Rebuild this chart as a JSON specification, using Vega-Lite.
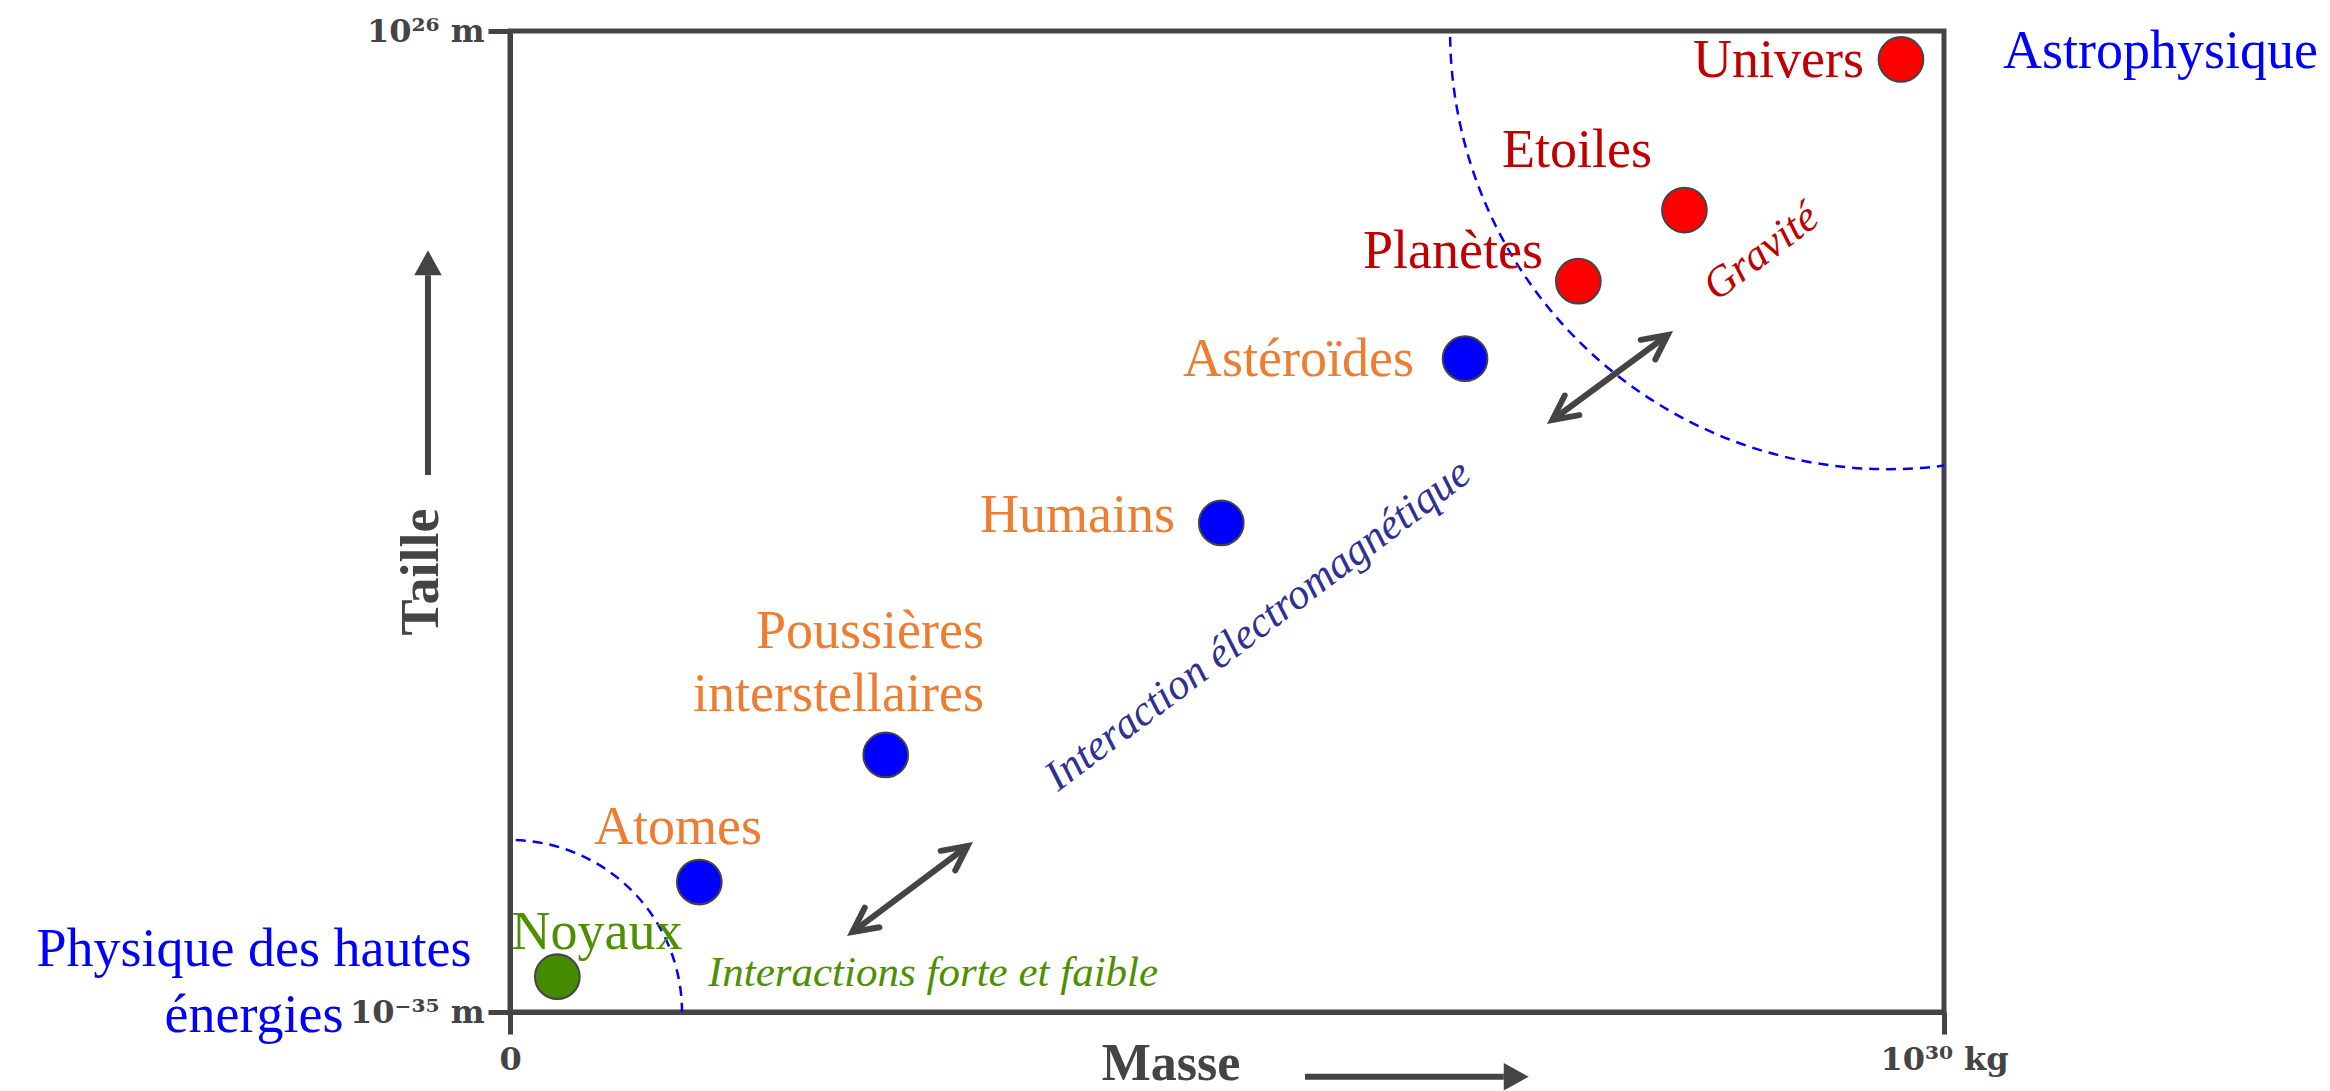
{
  "$schema": "https://vega.github.io/schema/vega-lite/v6.json",
  "width": 1434,
  "height": 981,
  "autosize": {"type": "none"},
  "padding": {"left": 510, "top": 31, "right": 386, "bottom": 79},
  "background": "white",
  "config": {
    "view": {"stroke": "#444444", "strokeWidth": 5},
    "font": "Liberation Serif"
  },
  "datasets": {
    "objets": [
      {"objet": "Noyaux", "x": 3.3, "y": 3.6, "force": "forte"},
      {"objet": "Atomes", "x": 13.2, "y": 13.25, "force": "em"},
      {"objet": "Poussières interstellaires", "x": 26.2, "y": 26.2, "force": "em"},
      {"objet": "Humains", "x": 49.6, "y": 49.85, "force": "em"},
      {"objet": "Astéroïdes", "x": 66.6, "y": 66.6, "force": "em"},
      {"objet": "Planètes", "x": 74.5, "y": 74.5, "force": "grav"},
      {"objet": "Etoiles", "x": 81.9, "y": 81.75, "force": "grav"},
      {"objet": "Univers", "x": 97.0, "y": 97.1, "force": "grav"}
    ],
    "etiquettes": [
      {"texte": "Noyaux", "x": 6.07, "y": 6.42, "cat": "forte", "pos": "dessus"},
      {"texte": "Atomes", "x": 11.72, "y": 17.13, "cat": "em", "pos": "dessus"},
      {"texte": "Poussières\ninterstellaires", "x": 33.05, "y": 37.1, "cat": "em", "pos": "gauche"},
      {"texte": "Humains", "x": 46.37, "y": 48.93, "cat": "em", "pos": "gauche"},
      {"texte": "Astéroïdes", "x": 63.04, "y": 64.83, "cat": "em", "pos": "gauche"},
      {"texte": "Planètes", "x": 72.04, "y": 75.84, "cat": "grav", "pos": "gauche"},
      {"texte": "Etoiles", "x": 74.41, "y": 86.14, "cat": "grav", "pos": "dessus"},
      {"texte": "Univers", "x": 94.42, "y": 95.3, "cat": "grav", "pos": "gauche"},
      {"texte": "Physique des hautes\nénergies", "x": -17.85, "y": 4.69, "cat": "domaine", "pos": "dessus"},
      {"texte": "Astrophysique", "x": 115.1, "y": 96.2, "cat": "domaine", "pos": "dessus"}
    ],
    "interactions": [
      {"texte": "Interaction électromagnétique", "x": 52.16, "y": 39.45, "cat": "emforce", "sens": "incline"},
      {"texte": "Gravité", "x": 87.24, "y": 77.47, "cat": "grav", "sens": "incline"},
      {"texte": "Interactions forte et faible", "x": 29.5, "y": 2.65, "cat": "forte", "sens": "horizontal"}
    ],
    "titres": [
      {"texte": "Masse", "x": 46.1, "y": -6.9, "sens": "horizontal"},
      {"texte": "Taille", "x": -5.02, "y": 44.85, "sens": "vertical"}
    ],
    "fleches": [
      {"fleche": "forte-em", "bout": "debut", "x": 23.88, "y": 8.15},
      {"fleche": "forte-em", "bout": "fin", "x": 31.91, "y": 16.92},
      {"fleche": "em-grav", "bout": "debut", "x": 72.69, "y": 60.35},
      {"fleche": "em-grav", "bout": "fin", "x": 80.73, "y": 69.01},
      {"fleche": "masse", "bout": "debut", "x": 55.44, "y": -6.6},
      {"fleche": "masse", "bout": "fin", "x": 69.3, "y": -6.6},
      {"fleche": "taille", "bout": "debut", "x": -5.72, "y": 54.74},
      {"fleche": "taille", "bout": "fin", "x": -5.72, "y": 75.1}
    ],
    "domaines": [
      {"domaine": "hautes énergies", "x": 0, "y": 0},
      {"domaine": "astrophysique", "x": 96.1, "y": 100}
    ]
  },
  "encoding": {
    "x": {
      "field": "x", "type": "quantitative",
      "scale": {"domain": [0, 100], "nice": false, "zero": false},
      "axis": {
        "values": [0, 100],
        "labelExpr": "datum.value == 0 ? '0' : '10³⁰ kg'",
        "title": null, "grid": false,
        "domainColor": "#444444", "domainWidth": 5,
        "tickColor": "#444444", "tickWidth": 5, "tickSize": 22,
        "labelFont": "DejaVu Serif", "labelFontSize": 32, "labelFontWeight": "bold",
        "labelColor": "#444444", "labelPadding": 10, "labelFlush": false, "labelOverlap": false
      }
    },
    "y": {
      "field": "y", "type": "quantitative",
      "scale": {"domain": [0, 100], "nice": false, "zero": false},
      "axis": {
        "values": [0, 100],
        "labelExpr": "datum.value == 0 ? '10⁻³⁵ m' : '10²⁶ m'",
        "title": null, "grid": false,
        "domainColor": "#444444", "domainWidth": 5,
        "tickColor": "#444444", "tickWidth": 5, "tickSize": 22,
        "labelFont": "DejaVu Serif", "labelFontSize": 32, "labelFontWeight": "bold",
        "labelColor": "#444444", "labelPadding": 4, "labelFlush": false, "labelOverlap": false
      }
    }
  },
  "layer": [
    {
      "data": {"name": "domaines"},
      "transform": [{"filter": "datum.domaine == 'hautes énergies'"}],
      "mark": {"type": "point", "shape": "circle", "filled": false, "color": "#0000ff", "stroke": "#0000ff", "strokeWidth": 2.5, "strokeDash": [10, 7], "size": 118336, "opacity": 1, "clip": true}
    },
    {
      "data": {"name": "domaines"},
      "transform": [{"filter": "datum.domaine == 'astrophysique'"}],
      "mark": {"type": "point", "shape": "circle", "filled": false, "color": "#0000ff", "stroke": "#0000ff", "strokeWidth": 2.5, "strokeDash": [10, 7], "size": 767376, "opacity": 1, "clip": true}
    },
    {
      "data": {"name": "fleches"},
      "mark": {"type": "line", "color": "#444444", "strokeWidth": 6, "strokeCap": "butt"},
      "encoding": {"detail": {"field": "fleche", "type": "nominal"}}
    },
    {
      "data": {"name": "fleches"},
      "transform": [{"filter": "(datum.fleche == 'forte-em' || datum.fleche == 'em-grav') && datum.bout == 'fin'"}],
      "mark": {"type": "point", "shape": "M -1 -0.5 L 0 0 L -1 0.5", "filled": false, "color": "#444444", "stroke": "#444444", "strokeWidth": 6, "strokeCap": "round", "strokeJoin": "miter", "size": 2400, "angle": -36.7, "opacity": 1}
    },
    {
      "data": {"name": "fleches"},
      "transform": [{"filter": "(datum.fleche == 'forte-em' || datum.fleche == 'em-grav') && datum.bout == 'debut'"}],
      "mark": {"type": "point", "shape": "M -1 -0.5 L 0 0 L -1 0.5", "filled": false, "color": "#444444", "stroke": "#444444", "strokeWidth": 6, "strokeCap": "round", "strokeJoin": "miter", "size": 2400, "angle": 143.3, "opacity": 1}
    },
    {
      "data": {"name": "fleches"},
      "transform": [{"filter": "datum.fleche == 'masse' && datum.bout == 'fin'"}],
      "mark": {"type": "point", "shape": "M 1 0 L 0 -0.55 L 0 0.55 Z", "filled": true, "color": "#444444", "strokeWidth": 0, "size": 2500, "angle": 0, "opacity": 1}
    },
    {
      "data": {"name": "fleches"},
      "transform": [{"filter": "datum.fleche == 'taille' && datum.bout == 'fin'"}],
      "mark": {"type": "point", "shape": "M 1 0 L 0 -0.55 L 0 0.55 Z", "filled": true, "color": "#444444", "strokeWidth": 0, "size": 2500, "angle": -90, "opacity": 1}
    },
    {
      "data": {"name": "objets"},
      "mark": {"type": "point", "shape": "circle", "filled": true, "size": 2000, "stroke": "#444444", "strokeWidth": 2, "opacity": 1},
      "encoding": {
        "fill": {
          "field": "force", "type": "nominal",
          "scale": {"domain": ["forte", "em", "grav"], "range": ["#458b00", "#0000ff", "#ff0000"]},
          "legend": null
        }
      }
    },
    {
      "data": {"name": "etiquettes"},
      "transform": [{"filter": "datum.pos == 'gauche'"}],
      "mark": {"type": "text", "align": "right", "baseline": "alphabetic", "font": "Liberation Serif", "fontSize": 54, "lineBreak": "\n", "lineHeight": 63},
      "encoding": {
        "text": {"field": "texte", "type": "nominal"},
        "color": {
          "field": "cat", "type": "nominal",
          "scale": {"domain": ["forte", "em", "grav", "emforce", "domaine"], "range": ["#4e9000", "#ed7d31", "#c00000", "#2e3192", "#0000ff"]},
          "legend": null
        }
      }
    },
    {
      "data": {"name": "etiquettes"},
      "transform": [{"filter": "datum.pos == 'dessus'"}],
      "mark": {"type": "text", "align": "center", "baseline": "alphabetic", "font": "Liberation Serif", "fontSize": 54, "lineBreak": "\n", "lineHeight": 66},
      "encoding": {
        "text": {"field": "texte", "type": "nominal"},
        "color": {
          "field": "cat", "type": "nominal",
          "scale": {"domain": ["forte", "em", "grav", "emforce", "domaine"], "range": ["#4e9000", "#ed7d31", "#c00000", "#2e3192", "#0000ff"]},
          "legend": null
        }
      }
    },
    {
      "data": {"name": "interactions"},
      "transform": [{"filter": "datum.sens == 'incline'"}],
      "mark": {"type": "text", "align": "center", "baseline": "middle", "font": "Liberation Serif", "fontStyle": "italic", "fontSize": 43, "angle": -37},
      "encoding": {
        "text": {"field": "texte", "type": "nominal"},
        "color": {
          "field": "cat", "type": "nominal",
          "scale": {"domain": ["forte", "em", "grav", "emforce", "domaine"], "range": ["#4e9000", "#ed7d31", "#c00000", "#2e3192", "#0000ff"]},
          "legend": null
        }
      }
    },
    {
      "data": {"name": "interactions"},
      "transform": [{"filter": "datum.sens == 'horizontal'"}],
      "mark": {"type": "text", "align": "center", "baseline": "alphabetic", "font": "Liberation Serif", "fontStyle": "italic", "fontSize": 43},
      "encoding": {
        "text": {"field": "texte", "type": "nominal"},
        "color": {
          "field": "cat", "type": "nominal",
          "scale": {"domain": ["forte", "em", "grav", "emforce", "domaine"], "range": ["#4e9000", "#ed7d31", "#c00000", "#2e3192", "#0000ff"]},
          "legend": null
        }
      }
    },
    {
      "data": {"name": "titres"},
      "transform": [{"filter": "datum.sens == 'horizontal'"}],
      "mark": {"type": "text", "align": "center", "baseline": "alphabetic", "font": "Liberation Serif", "fontWeight": "bold", "fontSize": 52, "color": "#444444"},
      "encoding": {"text": {"field": "texte", "type": "nominal"}}
    },
    {
      "data": {"name": "titres"},
      "transform": [{"filter": "datum.sens == 'vertical'"}],
      "mark": {"type": "text", "align": "center", "baseline": "alphabetic", "font": "Liberation Serif", "fontWeight": "bold", "fontSize": 54, "color": "#444444", "angle": 270},
      "encoding": {"text": {"field": "texte", "type": "nominal"}}
    }
  ]
}
